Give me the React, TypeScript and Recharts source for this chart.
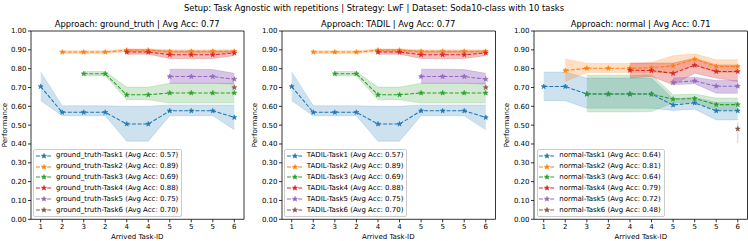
import React from "react";
import { ComposedChart, Area, Line, XAxis, YAxis, ReferenceArea, ErrorBar } from "recharts";

const FONT = "'DejaVu Sans', sans-serif";
const colors = ["#1f77b4", "#ff7f0e", "#2ca02c", "#d62728", "#9467bd", "#8c564b"];
const bandAlpha = [0.22, 0.25, 0.22, 0.3, 0.38];
const taskIds = ["1", "2", "3", "2", "4", "4", "5", "5", "5", "6"];
const positions = [0, 1, 2, 3, 4, 5, 6, 7, 8, 9];
const yTicks = [0, 0.1, 0.2, 0.3, 0.4, 0.5, 0.6, 0.7, 0.8, 0.9, 1.0];
const _ = null;

// ground_truth and TADIL show the same curves
const gtMean1 = [0.705, 0.568, 0.568, 0.568, 0.506, 0.506, 0.576, 0.576, 0.576, 0.541];
const gtLo1 = [0.63, 0.55, 0.55, 0.55, 0.415, 0.415, 0.55, 0.55, 0.55, 0.475];
const gtHi1 = [0.782, 0.603, 0.603, 0.603, 0.6, 0.6, 0.607, 0.607, 0.607, 0.607];
const gtMean2 = [_, 0.888, 0.888, 0.888, 0.898, 0.898, 0.892, 0.892, 0.892, 0.892];
const gtLo2 = [_, 0.881, 0.881, 0.881, 0.891, 0.891, 0.884, 0.884, 0.884, 0.884];
const gtHi2 = [_, 0.895, 0.895, 0.895, 0.905, 0.905, 0.9, 0.9, 0.9, 0.9];
const gtMean3 = [_, _, 0.773, 0.773, 0.661, 0.661, 0.671, 0.671, 0.671, 0.671];
const gtLo3 = [_, _, 0.762, 0.762, 0.635, 0.635, 0.617, 0.617, 0.617, 0.617];
const gtHi3 = [_, _, 0.785, 0.785, 0.702, 0.702, 0.723, 0.723, 0.723, 0.723];
const gtMean4 = [_, _, _, _, 0.888, 0.888, 0.874, 0.874, 0.874, 0.883];
const gtLo4 = [_, _, _, _, 0.877, 0.877, 0.854, 0.854, 0.854, 0.869];
const gtHi4 = [_, _, _, _, 0.902, 0.902, 0.893, 0.893, 0.893, 0.895];
const gtMean5 = [_, _, _, _, _, _, 0.758, 0.758, 0.758, 0.744];
const gtLo5 = [_, _, _, _, _, _, 0.722, 0.722, 0.722, 0.718];
const gtHi5 = [_, _, _, _, _, _, 0.797, 0.797, 0.795, 0.775];
const gtMean6 = [_, _, _, _, _, _, _, _, _, 0.7];
const gtLo6 = [_, _, _, _, _, _, _, _, _, 0.69];
const gtHi6 = [_, _, _, _, _, _, _, _, _, 0.71];
const gtAvg = ["0.57", "0.89", "0.69", "0.88", "0.75", "0.70"];

// normal
const nMean1 = [0.705, 0.705, 0.665, 0.665, 0.665, 0.665, 0.607, 0.618, 0.576, 0.576];
const nLo1 = [0.63, 0.63, 0.59, 0.59, 0.59, 0.59, 0.578, 0.585, 0.528, 0.528];
const nHi1 = [0.782, 0.782, 0.75, 0.75, 0.75, 0.75, 0.64, 0.648, 0.62, 0.62];
const nMean2 = [_, 0.79, 0.802, 0.802, 0.802, 0.805, 0.815, 0.85, 0.812, 0.812];
const nLo2 = [_, 0.732, 0.78, 0.78, 0.78, 0.78, 0.78, 0.82, 0.78, 0.78];
const nHi2 = [_, 0.851, 0.828, 0.828, 0.828, 0.833, 0.869, 0.879, 0.847, 0.847];
const nMean3 = [_, _, 0.665, 0.665, 0.665, 0.665, 0.638, 0.641, 0.609, 0.609];
const nLo3 = [_, _, 0.57, 0.57, 0.57, 0.572, 0.619, 0.62, 0.582, 0.582];
const nHi3 = [_, _, 0.765, 0.765, 0.765, 0.768, 0.661, 0.665, 0.644, 0.644];
const nMean4 = [_, _, _, _, 0.792, 0.79, 0.775, 0.818, 0.785, 0.785];
const nLo4 = [_, _, _, _, 0.75, 0.759, 0.714, 0.776, 0.75, 0.732];
const nHi4 = [_, _, _, _, 0.83, 0.83, 0.83, 0.855, 0.82, 0.82];
const nMean5 = [_, _, _, _, _, _, 0.727, 0.735, 0.707, 0.707];
const nLo5 = [_, _, _, _, _, _, 0.714, 0.72, 0.67, 0.67];
const nHi5 = [_, _, _, _, _, _, 0.75, 0.755, 0.737, 0.737];
const nMean6 = [_, _, _, _, _, _, _, _, _, 0.48];
const nLo6 = [_, _, _, _, _, _, _, _, _, 0.405];
const nHi6 = [_, _, _, _, _, _, _, _, _, 0.515];
const nAvg = ["0.64", "0.81", "0.64", "0.79", "0.72", "0.48"];

const gtTasks = [
  [gtMean1, gtLo1, gtHi1],
  [gtMean2, gtLo2, gtHi2],
  [gtMean3, gtLo3, gtHi3],
  [gtMean4, gtLo4, gtHi4],
  [gtMean5, gtLo5, gtHi5],
  [gtMean6, gtLo6, gtHi6],
];
const nTasks = [
  [nMean1, nLo1, nHi1],
  [nMean2, nLo2, nHi2],
  [nMean3, nLo3, nHi3],
  [nMean4, nLo4, nHi4],
  [nMean5, nLo5, nHi5],
  [nMean6, nLo6, nHi6],
];

const panels = [
  { name: "ground_truth", avg: "0.77", pl: 30.7, pr: 243.7, ylab: 4.5, tasks: gtTasks, avgs: gtAvg },
  { name: "TADIL", avg: "0.77", pl: 281.5, pr: 495, ylab: 254.5, tasks: gtTasks, avgs: gtAvg },
  { name: "normal", avg: "0.71", pl: 534, pr: 747.5, ylab: 507, tasks: nTasks, avgs: nAvg },
];

const STAR_R = 2.6;

const starPoints = (cx: number, cy: number, R: number) => {
  const r = R * 0.382;
  const pts: string[] = [];
  for (let i = 0; i < 10; i++) {
    const a = -Math.PI / 2 + (i * Math.PI) / 5;
    const rr = i % 2 === 0 ? R : r;
    pts.push(`${cx + rr * Math.cos(a)},${cy + rr * Math.sin(a)}`);
  }
  return pts.join(" ");
};

const starDot = (color: string) => (props: any) => {
  const { cx, cy, index } = props;
  if (cx == null || cy == null) return <g key={index} />;
  return (
    <polygon key={index} points={starPoints(cx, cy, STAR_R)} fill={color} stroke={color} strokeWidth={0.6} />
  );
};

// one small table per task, holding only the positions where the task exists
const taskRows = ([mean, lo, hi]: any[]) =>
  positions
    .filter((i) => mean[i] != null)
    .map((i) => ({
      x: i,
      m: mean[i],
      band: [lo[i], hi[i]],
      err: [mean[i] - lo[i], hi[i] - mean[i]],
    }));

const tickStyle = { fill: "#000", fontSize: 7, fontFamily: FONT };

const Panel = ({ cfg }: { cfg: any }) => {
  const yAxisW = 30;
  const left = cfg.pl - yAxisW;
  const width = yAxisW + (cfg.pr - cfg.pl) + 2;
  const tables = cfg.tasks.map(taskRows);
  const cx = (cfg.pl + cfg.pr) / 2;
  return (
    <>
      <div style={{ position: "absolute", left, top: 0 }}>
        <ComposedChart width={width} height={241} margin={{ top: 31, right: 2, bottom: 0, left: 0 }}>
          <XAxis
            type="number"
            dataKey="x"
            domain={[-0.45, 9.45]}
            ticks={positions}
            interval={0}
            allowDataOverflow
            tickFormatter={(v: number) => taskIds[v]}
            height={21.7}
            axisLine={false}
            tickLine={{ stroke: "#000", strokeWidth: 0.8 }}
            tickSize={3}
            tickMargin={1.5}
            tick={tickStyle}
          />
          <YAxis
            type="number"
            domain={[0, 1]}
            ticks={yTicks}
            interval={0}
            allowDataOverflow
            tickFormatter={(v: number) => v.toFixed(2)}
            width={yAxisW}
            axisLine={false}
            tickLine={{ stroke: "#000", strokeWidth: 0.8 }}
            tickSize={3}
            tickMargin={1.5}
            tick={tickStyle}
          />
          {tables.slice(0, 5).map((rows: any[], k: number) => (
            <Area
              key={`b${k}`}
              data={rows}
              type="linear"
              dataKey="band"
              fill={colors[k]}
              fillOpacity={bandAlpha[k]}
              stroke={colors[k]}
              strokeOpacity={bandAlpha[k]}
              strokeWidth={0.7}
              isAnimationActive={false}
              activeDot={false}
            />
          ))}
          {tables.map((rows: any[], k: number) => (
            <Line
              key={`m${k}`}
              data={rows}
              type="linear"
              dataKey="m"
              stroke={colors[k]}
              strokeWidth={1.05}
              strokeDasharray="3.9 1.7"
              dot={starDot(colors[k])}
              activeDot={false}
              isAnimationActive={false}
            >
              {k === 5 && (
                <ErrorBar dataKey="err" direction="y" width={0} stroke="rgba(140,86,75,0.3)" strokeWidth={1} />
              )}
            </Line>
          ))}
          <ReferenceArea
            x1={-0.45}
            x2={9.45}
            y1={0}
            y2={1}
            fill="none"
            stroke="#000"
            strokeWidth={0.8}
            ifOverflow="visible"
          />
        </ComposedChart>
      </div>
      <div style={{ position: "absolute", left: cx, top: 24, transform: "translate(-50%, -50%)", fontSize: 8.4, whiteSpace: "nowrap" }}>
        {`Approach: ${cfg.name} | Avg Acc: ${cfg.avg}`}
      </div>
      <div style={{ position: "absolute", left: cx, top: 236.5, transform: "translate(-50%, -50%)", fontSize: 7, whiteSpace: "nowrap" }}>
        Arrived Task-ID
      </div>
      <div
        style={{
          position: "absolute",
          left: cfg.ylab,
          top: 125,
          transform: "translate(-50%, -50%) rotate(-90deg)",
          fontSize: 7,
          whiteSpace: "nowrap",
        }}
      >
        Performance
      </div>
      <div
        style={{
          position: "absolute",
          left: cfg.pl + 2.6,
          top: 149.3,
          border: "1px solid #cccccc",
          borderRadius: 2,
          background: "rgba(255,255,255,0.8)",
          padding: "0 3px 1px 0",
          fontSize: 7,
        }}
      >
        {cfg.avgs.map((a: string, k: number) => (
          <div key={k} style={{ height: 10.87, display: "flex", alignItems: "center", whiteSpace: "nowrap" }}>
            <svg width={20} height={10} style={{ marginLeft: 1.7 }}>
              <line x1={0} x2={16} y1={5} y2={5} stroke={colors[k]} strokeWidth={1.05} strokeDasharray="3.9 1.7" />
              <polygon points={starPoints(8, 5, STAR_R)} fill={colors[k]} stroke={colors[k]} strokeWidth={0.6} />
            </svg>
            <span style={{ lineHeight: "10.87px" }}>{`${cfg.name}-Task${k + 1} (Avg Acc: ${a})`}</span>
          </div>
        ))}
      </div>
    </>
  );
};

export default function App() {
  return (
    <div
      style={{
        position: "absolute",
        left: 0,
        top: 0,
        width: 748,
        height: 241,
        background: "#fff",
        fontFamily: FONT,
        color: "#000",
        overflow: "hidden",
      }}
    >
      <div style={{ position: "absolute", left: 374, top: 7.5, transform: "translate(-50%, -50%)", fontSize: 8.4, whiteSpace: "nowrap" }}>
        Setup: Task Agnostic with repetitions | Strategy: LwF | Dataset: Soda10-class with 10 tasks
      </div>
      {panels.map((p) => (
        <Panel key={p.name} cfg={p} />
      ))}
    </div>
  );
}
